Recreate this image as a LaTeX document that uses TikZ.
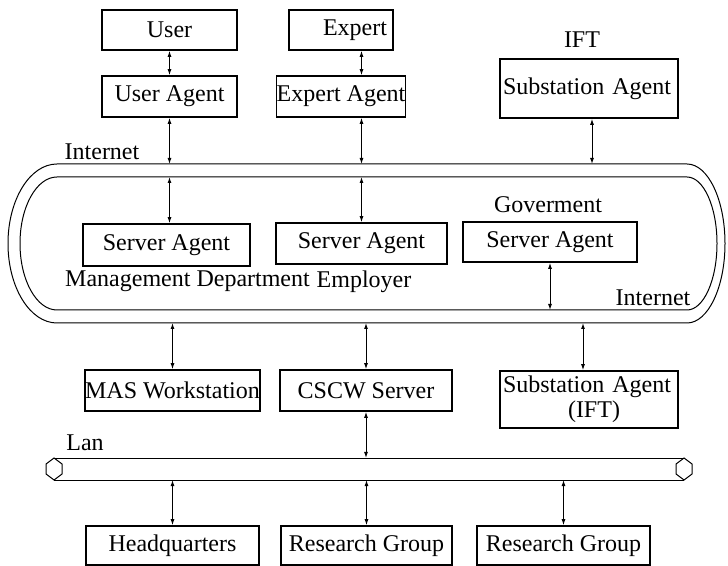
\documentclass[tikz,border=0pt]{standalone}
\usepackage{fontspec}
\setmainfont{Liberation Serif}
\usetikzlibrary{arrows.meta}
\begin{document}
\begin{tikzpicture}[x=0.5pt, y=-0.5pt,
		every node/.style={text=black, inner sep=0pt, font=\fontsize{12}{12.5}\selectfont},
		box/.style={draw, line width=0.8pt, minimum height=20.5pt},
		link/.style={<->, line width=0.5pt, >={Latex[length=3pt,width=2pt]}},
		net/.style={line width=0.5pt}]
	\useasboundingbox (0,0) rectangle (728,566);
	% top row
	\node[box, minimum width=67.5pt, minimum height=20pt] (user) at (169.5,30) {User};
	\node[box, minimum width=52pt, minimum height=20pt] (expert) at (341,30) {\makebox[46pt][r]{Expert}};
	\node[box, minimum width=67.5pt] (userag) at (169.5,96.5) {User Agent};
	\node[box, minimum width=56pt] (expertag) at (341,96.5) {Expert Agent};
	\node (ift) at (582,40) {IFT};
	\node[box, minimum width=89pt, minimum height=29.5pt, text width=86pt, align=left] (subag) at (589,88.5) {Substation Agent};
	% internet ring
	\draw[net] (57,164) -- (687,164) arc(-90:90:38 and 79.5) -- (57,323) arc(90:270:49 and 79.5) -- cycle;
	\draw[net] (57,177) -- (687,177) arc(-90:90:30 and 66.5) -- (57,310) arc(90:270:37 and 66.5) -- cycle;
	\coordinate (otop) at (0,164);
	\coordinate (itop) at (0,177);
	\coordinate (ibot) at (0,310);
	\coordinate (obot) at (0,323);
	\node (inet1) at (102,152) {Internet};
	\node (inet2) at (653,298) {Internet};
	\node[box, minimum width=83.5pt, minimum height=21pt] (srvmgmt) at (166.5,245) {Server Agent};
	\node (mgmt) at (187.5,281) {Management Department};
	\node[box, minimum width=85.5pt] (srvemp) at (361.5,243.5) {Server Agent};
	\node (emp) at (364,282) {Employer};
	\node (gov) at (548,205) {Goverment};
	\node[box, minimum width=87pt, minimum height=20pt] (srvgov) at (550,242) {Server Agent};
	% workstations
	\node[box, minimum width=86.5pt] (mas) at (172.5,390.5) {MAS Workstation};
	\node[box, minimum width=86pt] (cscw) at (366,390.5) {CSCW Server};
	\node[box, minimum width=89pt, minimum height=28.5pt, text width=86pt, align=left] (subift) at (589,399.5) {Substation Agent\\\hspace*{32.5pt}(IFT)};
	% lan
	\node (lan) at (85,443) {Lan};
	\draw[net] (54,458) -- (684,458);
	\draw[net] (54,480) -- (684,480);
	\draw[net] (54,458) -- (62,464) -- (62,474) -- (54,480) -- (46,474) -- (46,464) -- cycle;
	\draw[net] (684,458) -- (692,464) -- (692,474) -- (684,480) -- (676,474) -- (676,464) -- cycle;
	\coordinate (ltop) at (0,458);
	\coordinate (lbot) at (0,480);
	% groups
	\node[box, minimum width=86.5pt, minimum height=19.5pt] (hq) at (172.5,545.5) {Headquarters};
	\node[box, minimum width=85.5pt, minimum height=19.5pt] (rg1) at (366.5,545.5) {Research Group};
	\node[box, minimum width=86.5pt, minimum height=19.5pt] (rg2) at (563.5,545.5) {Research Group};
	% links
	\draw[link] (user.south) -- (userag.north);
	\draw[link] (srvemp.north |- expert.south) -- (srvemp.north |- expertag.north);
	\draw[link] (userag.south) -- (userag.south |- otop);
	\draw[link] (srvemp.north |- expertag.south) -- (srvemp.north |- otop);
	\draw[link] ([xshift=1.5pt]subag.south) -- ([xshift=1.5pt]subag.south |- otop);
	\draw[link] (userag.south |- itop) -- (userag.south |- srvmgmt.north);
	\draw[link] (srvemp.north |- itop) -- (srvemp.north);
	\draw[link] (srvgov.south) -- (srvgov.south |- ibot);
	\draw[link] (mas.north |- obot) -- (mas.north);
	\draw[link] (cscw.north |- obot) -- (cscw.north);
	\draw[link] ([xshift=-3pt]subift.north |- obot) -- ([xshift=-3pt]subift.north);
	\draw[link] (cscw.south) -- (cscw.south |- ltop);
	\draw[link] (hq.north |- lbot) -- (hq.north);
	\draw[link] (rg1.north |- lbot) -- (rg1.north);
	\draw[link] (rg2.north |- lbot) -- (rg2.north);
\end{tikzpicture}
\end{document}
